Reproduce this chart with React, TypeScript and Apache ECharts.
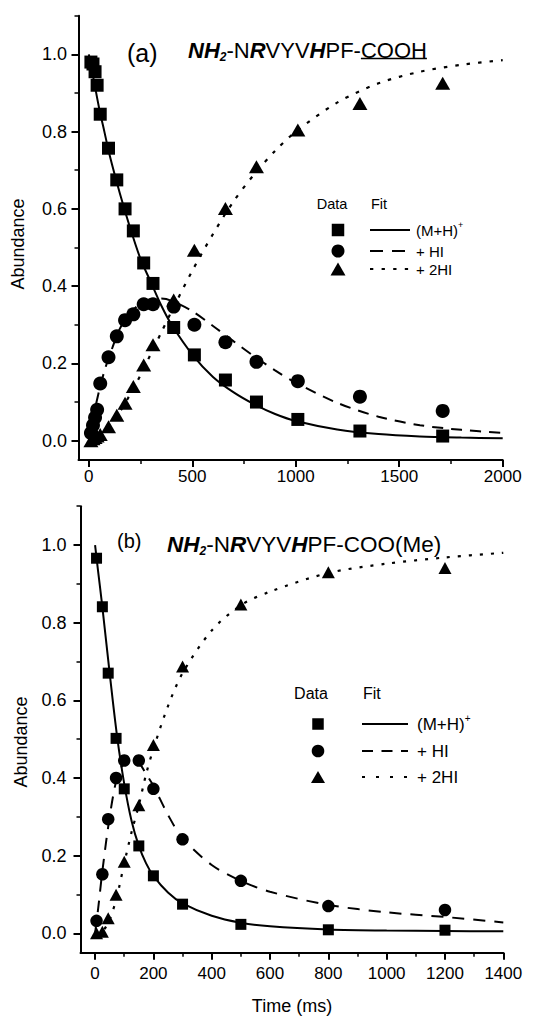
import React, { useEffect, useRef } from "react";
import * as echarts from "echarts";

const FONT = "'Liberation Sans', Arial, Helvetica, sans-serif";

// ---------- Panel (a): NH2-NRVYVHPF-COOH ----------
const timeA = [10, 20, 30, 40, 55, 95, 135, 175, 215, 265, 310, 410, 510, 660, 810, 1010, 1310, 1710];
const mhA = [0.98, 0.975, 0.955, 0.92, 0.845, 0.757, 0.675, 0.6, 0.543, 0.46, 0.407, 0.293, 0.222, 0.157, 0.1, 0.055, 0.025, 0.012];
const hiA = [0.02, 0.04, 0.06, 0.08, 0.148, 0.216, 0.27, 0.312, 0.327, 0.353, 0.353, 0.347, 0.3, 0.255, 0.204, 0.154, 0.114, 0.077];
const twoHiA = [0.0, 0.005, 0.008, 0.012, 0.016, 0.036, 0.066, 0.097, 0.14, 0.196, 0.248, 0.364, 0.493, 0.601, 0.709, 0.804, 0.873, 0.925];

const fitTimeA = [0, 25, 50, 75, 100, 150, 200, 250, 300, 350, 400, 500, 600, 700, 800, 900, 1000, 1200, 1400, 1600, 1800, 2000];
const fitMhA = [1.0, 0.93, 0.86, 0.8, 0.74, 0.64, 0.55, 0.47, 0.41, 0.35, 0.3, 0.223, 0.165, 0.125, 0.094, 0.069, 0.051, 0.029, 0.017, 0.011, 0.008, 0.006];
const fitHiA = [0.0, 0.07, 0.13, 0.18, 0.22, 0.29, 0.33, 0.355, 0.366, 0.368, 0.362, 0.335, 0.297, 0.257, 0.218, 0.182, 0.15, 0.098, 0.062, 0.04, 0.028, 0.02];
const fitTwoHiA = [0.0, 0.003, 0.01, 0.02, 0.037, 0.075, 0.12, 0.17, 0.225, 0.28, 0.335, 0.44, 0.535, 0.62, 0.69, 0.75, 0.8, 0.875, 0.925, 0.955, 0.973, 0.985];

// ---------- Panel (b): NH2-NRVYVHPF-COO(Me) ----------
const timeB = [5, 25, 45, 72, 100, 150, 200, 300, 500, 800, 1200];
const mhB = [0.966, 0.841, 0.67, 0.502, 0.372, 0.225, 0.148, 0.075, 0.023, 0.009, 0.008];
const hiB = [0.032, 0.152, 0.294, 0.4, 0.445, 0.445, 0.372, 0.242, 0.135, 0.07, 0.06];
const twoHiB = [0.0, 0.004, 0.039, 0.099, 0.184, 0.33, 0.485, 0.687, 0.847, 0.93, 0.941];

const fitTimeB = [0, 10, 25, 50, 75, 100, 125, 150, 175, 200, 250, 300, 400, 500, 600, 800, 1000, 1200, 1400];
const fitMhB = [1.0, 0.935, 0.84, 0.67, 0.51, 0.385, 0.29, 0.225, 0.18, 0.148, 0.105, 0.077, 0.045, 0.027, 0.018, 0.01, 0.007, 0.006, 0.005];
const fitHiB = [0.0, 0.06, 0.16, 0.3, 0.4, 0.44, 0.45, 0.44, 0.41, 0.38, 0.305, 0.245, 0.176, 0.135, 0.107, 0.073, 0.054, 0.042, 0.028];
const fitTwoHiB = [0.0, 0.0, 0.004, 0.035, 0.095, 0.18, 0.26, 0.33, 0.41, 0.475, 0.585, 0.67, 0.78, 0.845, 0.88, 0.928, 0.952, 0.968, 0.98];

// ---------- Ticks ----------
const yTicks = [0, 0.2, 0.4, 0.6, 0.8, 1.0];
const yMinorTicks = [0.1, 0.3, 0.5, 0.7, 0.9, 1.1];
const xTicksA = [0, 500, 1000, 1500, 2000];
const xMinorTicksA = [250, 750, 1250, 1750];
const xTicksB = [0, 200, 400, 600, 800, 1000, 1200, 1400];
const xMinorTicksB = [100, 300, 500, 700, 900, 1100, 1300];

const legendLabels = ["+ HI", "+ 2HI"];

const zip = (xs: number[], ys: number[]) => xs.map((x, i) => [x, ys[i]]);

function makeXAxes(grid: number, max: number, major: number[], minor: number[], margin: number) {
  return [
    {
      gridIndex: grid, type: "value", min: -50, max, position: "bottom",
      axisLine: { show: true, onZero: false, lineStyle: { color: "#000", width: 2 } },
      axisTick: { show: true, length: 7, lineStyle: { color: "#000", width: 2 }, customValues: major },
      axisLabel: {
        customValues: major, margin, fontSize: 17, color: "#000", fontFamily: FONT,
        formatter: (v: number) => String(Math.round(v)),
      },
      splitLine: { show: false },
    },
    {
      gridIndex: grid, type: "value", min: -50, max, position: "bottom",
      axisLine: { show: false, onZero: false },
      axisTick: { show: true, length: 4, lineStyle: { color: "#000", width: 1.5 }, customValues: minor },
      axisLabel: { show: false },
      splitLine: { show: false },
    },
  ];
}

function makeYAxes(grid: number, margin: number) {
  return [
    {
      gridIndex: grid, type: "value", min: -0.05, max: 1.1, position: "left",
      axisLine: { show: true, onZero: false, lineStyle: { color: "#000", width: 2 } },
      axisTick: { show: true, length: 7, lineStyle: { color: "#000", width: 2 }, customValues: yTicks },
      axisLabel: {
        customValues: yTicks, margin, fontSize: 18, color: "#000", fontFamily: FONT,
        formatter: (v: number) => v.toFixed(1),
      },
      splitLine: { show: false },
    },
    {
      gridIndex: grid, type: "value", min: -0.05, max: 1.1, position: "left",
      axisLine: { show: false, onZero: false },
      axisTick: { show: true, length: 4, lineStyle: { color: "#000", width: 1.5 }, customValues: yMinorTicks },
      axisLabel: { show: false },
      splitLine: { show: false },
    },
  ];
}

function panelSeries(
  ax: number, times: number[], sq: number[], ci: number[], tr: number[],
  fitT: number[], f1: number[], f2: number[], f3: number[],
  sizes: { sq: number; ci: number; tr: number[] }, dash: number[], dot: number[]
) {
  const base = { xAxisIndex: ax, yAxisIndex: ax, silent: true };
  const item = { color: "#000", opacity: 1 };
  return [
    { ...base, type: "line", data: zip(fitT, f1), showSymbol: false, smooth: 0.3, z: 2,
      lineStyle: { color: "#000", width: 2 } },
    { ...base, type: "line", data: zip(fitT, f2), showSymbol: false, smooth: 0.3, z: 2,
      lineStyle: { color: "#000", width: 2, type: dash } },
    { ...base, type: "line", data: zip(fitT, f3), showSymbol: false, smooth: 0.3, z: 2,
      lineStyle: { color: "#000", width: 2.2, type: dot } },
    { ...base, type: "scatter", data: zip(times, sq), symbol: "rect", symbolSize: sizes.sq, z: 3, itemStyle: item },
    { ...base, type: "scatter", data: zip(times, ci), symbol: "circle", symbolSize: sizes.ci, z: 3, itemStyle: item },
    { ...base, type: "scatter", data: zip(times, tr), symbol: "triangle", symbolSize: sizes.tr, z: 3, itemStyle: item },
  ];
}

function legend(o: {
  headY: number; dataX: number; fitX: number; symX: number; rows: number[];
  lineX1: number; lineX2: number; labelX: number; headSize: number; labelSize: number;
  sq: number; r: number; triW: number; triH: number; dash: number[]; dot: number[];
}) {
  const els: any[] = [];
  els.push({ type: "text", x: o.dataX, y: o.headY, style: { text: "Data", fontSize: o.headSize, fontFamily: FONT, fill: "#000", textAlign: "center", textVerticalAlign: "middle" } });
  els.push({ type: "text", x: o.fitX, y: o.headY, style: { text: "Fit", fontSize: o.headSize, fontFamily: FONT, fill: "#000", textAlign: "left", textVerticalAlign: "middle" } });
  const [r1, r2, r3] = o.rows;
  els.push({ type: "rect", shape: { x: o.symX - o.sq / 2, y: r1 - o.sq / 2, width: o.sq, height: o.sq }, style: { fill: "#000" } });
  els.push({ type: "circle", shape: { cx: o.symX, cy: r2, r: o.r }, style: { fill: "#000" } });
  els.push({ type: "polygon", shape: { points: [[o.symX, r3 - o.triH / 2], [o.symX + o.triW / 2, r3 + o.triH / 2], [o.symX - o.triW / 2, r3 + o.triH / 2]] }, style: { fill: "#000" } });
  els.push({ type: "line", shape: { x1: o.lineX1, y1: r1, x2: o.lineX2, y2: r1 }, style: { stroke: "#000", lineWidth: 2 } });
  els.push({ type: "line", shape: { x1: o.lineX1, y1: r2, x2: o.lineX2, y2: r2 }, style: { stroke: "#000", lineWidth: 2, lineDash: o.dash } });
  els.push({ type: "line", shape: { x1: o.lineX1, y1: r3, x2: o.lineX2, y2: r3 }, style: { stroke: "#000", lineWidth: 2.2, lineDash: o.dot } });
  els.push({
    type: "text", x: o.labelX, y: r1,
    style: {
      text: "{n|(M+H)}{s|+}", fill: "#000", textAlign: "left", textVerticalAlign: "middle",
      rich: {
        n: { fontSize: o.labelSize, fontFamily: FONT, fill: "#000", lineHeight: o.labelSize + 4 },
        s: { fontSize: Math.round(o.labelSize * 0.6), fontFamily: FONT, fill: "#000", verticalAlign: "top", lineHeight: 10 },
      },
    },
  });
  els.push({ type: "text", x: o.labelX, y: r2, style: { text: legendLabels[0], fontSize: o.labelSize, fontFamily: FONT, fill: "#000", textAlign: "left", textVerticalAlign: "middle" } });
  els.push({ type: "text", x: o.labelX, y: r3, style: { text: legendLabels[1], fontSize: o.labelSize, fontFamily: FONT, fill: "#000", textAlign: "left", textVerticalAlign: "middle" } });
  return els;
}

function titleRich(size: number, tail: string) {
  return {
    text: `{bi|NH}{sub|2}{n|-N}{bi|R}{n|VYV}{bi|H}{n|${tail}}`,
    fill: "#000",
    textAlign: "left",
    textVerticalAlign: "middle",
    rich: {
      bi: { fontSize: size, fontFamily: FONT, fontWeight: "bold", fontStyle: "italic", fill: "#000", lineHeight: 26 },
      n: { fontSize: size, fontFamily: FONT, fill: "#000", lineHeight: 26 },
      sub: { fontSize: Math.round(size * 0.55), fontFamily: FONT, fontWeight: "bold", fontStyle: "italic", fill: "#000", verticalAlign: "bottom", lineHeight: 11 },
    },
  };
}

export default function App() {
  const ref = useRef<HTMLDivElement>(null);

  useEffect(() => {
    document.body.style.margin = "0";
    if (!ref.current) return;
    const chart = echarts.init(ref.current, null, { renderer: "svg" });

    // measure title prefix to place the underline under "COOH"
    const ctx = document.createElement("canvas").getContext("2d")!;
    const tw = (t: string, size: number, bold = false, italic = false) => {
      ctx.font = `${italic ? "italic " : ""}${bold ? "bold " : ""}${size}px ${FONT}`;
      return ctx.measureText(t).width;
    };
    const tA = 22;
    const titleAX = 188;
    const prefix =
      tw("NH", tA, true, true) + tw("2", Math.round(tA * 0.55), true, true) + tw("-N", tA) +
      tw("R", tA, true, true) + tw("VYV", tA) + tw("H", tA, true, true) + tw("PF-", tA);
    const coohW = tw("COOH", tA);

    const option: any = {
      animation: false,
      backgroundColor: "#fff",
      grid: [
        { left: 78.5, top: 15.7, width: 424.2, height: 444.3, outerBoundsMode: "none" },
        { left: 80.5, top: 506.2, width: 422.8, height: 446.5, outerBoundsMode: "none" },
      ],
      xAxis: [
        ...makeXAxes(0, 2000, xTicksA, xMinorTicksA, 7.5),
        ...makeXAxes(1, 1400, xTicksB, xMinorTicksB, 12),
      ],
      yAxis: [...makeYAxes(0, 11.5), ...makeYAxes(1, 14)],
      series: [
        ...panelSeries(0, timeA, mhA, hiA, twoHiA, fitTimeA, fitMhA, fitHiA, fitTwoHiA,
          { sq: 13, ci: 14, tr: [15, 13] }, [11, 8], [3.5, 8]),
        ...panelSeries(2, timeB, mhB, hiB, twoHiB, fitTimeB, fitMhB, fitHiB, fitTwoHiB,
          { sq: 11, ci: 12.5, tr: [13, 12] }, [12, 9], [3, 8]),
      ],
      graphic: [
        // panel (a) title
        { type: "text", x: 127, y: 53, style: { text: "(a)", fontSize: 25, fontFamily: FONT, fill: "#000", textAlign: "left", textVerticalAlign: "middle" } },
        { type: "text", x: titleAX, y: 50, style: titleRich(tA, "PF-COOH") },
        { type: "line", shape: { x1: titleAX + prefix, y1: 58.5, x2: titleAX + prefix + coohW, y2: 58.5 }, style: { stroke: "#000", lineWidth: 1.5 } },
        // panel (b) title
        { type: "text", x: 117, y: 541, style: { text: "(b)", fontSize: 20, fontFamily: FONT, fill: "#000", textAlign: "left", textVerticalAlign: "middle" } },
        { type: "text", x: 167, y: 544, style: titleRich(22.5, "PF-COO(Me)") },
        // axis titles
        { type: "text", x: 18, y: 244, rotation: Math.PI / 2, style: { text: "Abundance", fontSize: 18, fontFamily: FONT, fill: "#000", textAlign: "center", textVerticalAlign: "middle" } },
        { type: "text", x: 21, y: 742, rotation: Math.PI / 2, style: { text: "Abundance", fontSize: 18, fontFamily: FONT, fill: "#000", textAlign: "center", textVerticalAlign: "middle" } },
        { type: "text", x: 292, y: 1006, style: { text: "Time (ms)", fontSize: 18, fontFamily: FONT, fill: "#000", textAlign: "center", textVerticalAlign: "middle" } },
        // legends
        ...legend({
          headY: 204, dataX: 332, fitX: 371, symX: 338, rows: [230, 251, 269],
          lineX1: 370, lineX2: 410, labelX: 416, headSize: 14.5, labelSize: 15,
          sq: 12.5, r: 6.5, triW: 15, triH: 13, dash: [13, 9], dot: [3.3, 8.3],
        }),
        ...legend({
          headY: 693, dataX: 311, fitX: 363, symX: 318, rows: [724, 751, 777],
          lineX1: 362, lineX2: 408, labelX: 417, headSize: 16, labelSize: 17,
          sq: 11.5, r: 6.3, triW: 14, triH: 12, dash: [11, 8.5], dot: [3, 11],
        }),
      ],
    };
    chart.setOption(option);
    return () => chart.dispose();
  }, []);

  return <div ref={ref} style={{ width: 545, height: 1017, background: "#fff" }} />;
}
